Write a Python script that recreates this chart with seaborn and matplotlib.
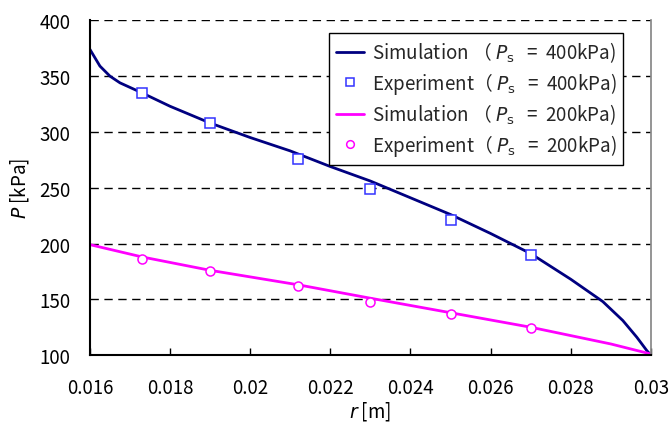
import numpy as np
import pandas as pd
import matplotlib
matplotlib.use("Agg")
import matplotlib.pyplot as plt
import seaborn as sns

sns.set_theme(style="white")
plt.rcParams['font.family'] = ['Noto Sans CJK JP', 'DejaVu Sans']
plt.rcParams['mathtext.fontset'] = 'dejavusans'

# Simulation, Ps = 400 kPa
r_sim400 = [0.01600, 0.01605, 0.01625, 0.0165, 0.01675, 0.0173, 0.018, 0.019, 0.020,
            0.021, 0.022, 0.023, 0.024, 0.025, 0.026, 0.027, 0.028, 0.0288, 0.0293,
            0.02965, 0.0299, 0.030]
p_sim400 = [374, 371, 359, 350, 344, 335, 323, 308, 295, 283, 269, 256, 241, 226,
            209, 191, 168, 148, 131, 116, 104, 100]
# Simulation, Ps = 200 kPa
r_sim200 = [0.016, 0.0173, 0.019, 0.0212, 0.023, 0.025, 0.027, 0.029, 0.030]
p_sim200 = [199, 188, 176, 163, 151, 138, 125, 110, 101]
# Experiment
r_exp = [0.0173, 0.019, 0.0212, 0.023, 0.025, 0.027]
p_exp400 = [335, 308, 276, 249, 221, 190]
p_exp200 = [186, 175, 162, 148, 137, 124]

lab_sim400 = 'Simulation （ $P_{\\rm s}$   =  400kPa)'
lab_exp400 = 'Experiment（ $P_{\\rm s}$   =  400kPa)'
lab_sim200 = 'Simulation （ $P_{\\rm s}$   =  200kPa)'
lab_exp200 = 'Experiment（ $P_{\\rm s}$   =  200kPa)'

fs = 13.5

fig = plt.figure(figsize=(6.71, 4.27), dpi=100)
ax = fig.add_axes([0.134, 0.166, 0.836, 0.784])

sns.lineplot(x=r_sim400, y=p_sim400, ax=ax, color='#000080', lw=2, sort=False,
             estimator=None, label=lab_sim400)
ax.plot(r_exp, p_exp400, ls='none', marker='s', ms=6.5, mfc='white', mec='#3333ff',
        mew=1.1, label=lab_exp400)
sns.lineplot(x=r_sim200, y=p_sim200, ax=ax, color='#ff00ff', lw=2, sort=False,
             estimator=None, label=lab_sim200)
ax.plot(r_exp, p_exp200, ls='none', marker='o', ms=6.5, mfc='white', mec='#ff00ff',
        mew=1.1, label=lab_exp200)

ax.set_xlim(0.016, 0.03)
ax.set_ylim(100, 400)
ax.set_xticks(np.arange(0.016, 0.0301, 0.002))
ax.set_xticklabels(['0.016', '0.018', '0.02', '0.022', '0.024', '0.026', '0.028', '0.03'])
ax.set_yticks(np.arange(100, 401, 50))

for y in range(150, 401, 50):
    ax.axhline(y, color='black', lw=1, ls=(0, (6, 4)), zorder=0)

ax.spines['top'].set_visible(False)
ax.spines['right'].set_color('#888888')
ax.spines['left'].set_color('black')
ax.spines['bottom'].set_color('black')
ax.spines['left'].set_linewidth(1.5)
ax.spines['bottom'].set_linewidth(1.5)

ax.tick_params(axis='x', direction='in', length=5, width=1, colors='black',
               labelsize=fs, pad=16, labelcolor='black')
ax.tick_params(axis='y', direction='out', length=0, labelsize=fs, pad=14, labelcolor='black')
ax.tick_params(bottom=True, left=False)

ax.set_xlabel('$r$ [m]', fontsize=fs, color='black', va='center')
ax.xaxis.set_label_coords(0.5, -0.165)
ax.set_ylabel('$P$ [kPa]', fontsize=fs, color='black', labelpad=6)

leg = ax.legend(loc='upper right', bbox_to_anchor=(0.967, 0.99), fontsize=fs,
                frameon=True, fancybox=False, edgecolor='black', framealpha=1,
                handlelength=1.5, handletextpad=0.4, borderpad=0.35, labelspacing=0.3,
                borderaxespad=0.5, markerscale=0.85)
leg.get_frame().set_linewidth(1)

fig.savefig('out.png', dpi=100)
